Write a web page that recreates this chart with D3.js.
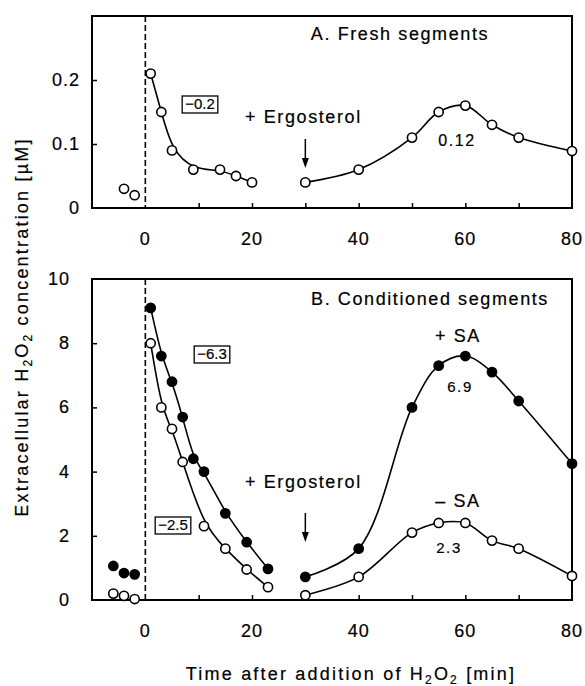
<!DOCTYPE html>
<html>
<head>
<meta charset="utf-8">
<script src="https://cdn.jsdelivr.net/npm/d3@7"></script>
<style>
body { margin: 0; background: #fff; }
text { font-family: "Liberation Sans", Arial, sans-serif; fill: #000; stroke: #000; stroke-width: 0.2px; }
</style>
</head>
<body>
<div id="chart-area"></div>
<script>
// data (time in min, concentration in uM)
var preA = [[-4, 0.03], [-2, 0.02]]
var declineA = [[1, 0.21], [3, 0.15], [5, 0.09], [9, 0.06], [14, 0.06], [17, 0.05], [20, 0.04]]
var riseA = [[30, 0.04], [40, 0.06], [50, 0.11], [55, 0.15], [60, 0.16], [65, 0.13], [70, 0.11], [80, 0.089]]

var preFilled = [[-6, 1.06], [-4, 0.84], [-2, 0.8]]
var preOpen = [[-6, 0.2], [-4, 0.13], [-2, 0.03]]
var declineFilled = [[1, 9.1], [3, 7.6], [5, 6.8], [7, 5.7], [9, 4.4], [11, 4.0], [15, 2.7], [19, 1.8], [23, 0.97]]
var declineOpen = [[1, 8.0], [3, 6.0], [5, 5.33], [7, 4.3], [11, 2.3], [15, 1.6], [19, 0.95], [23, 0.4]]
var riseFilled = [[30, 0.72], [40, 1.6], [50, 6.0], [55, 7.3], [60, 7.6], [65, 7.1], [70, 6.2], [80, 4.25]]
var riseOpen = [[30, 0.15], [40, 0.72], [50, 2.1], [55, 2.4], [60, 2.4], [65, 1.85], [70, 1.6], [80, 0.75]]

var xTicks = [10, 20, 30, 40, 50, 60, 70]
var xLabels = [0, 20, 40, 60, 80]
var yTicksA = [0, 0.1, 0.2]
var yTicksB = [0, 2, 4, 6, 8, 10]

var width = 585
var height = 686

var svg = d3.select("#chart-area").append("svg")
.attr("width", width)
.attr("height", height)

var x = d3.scaleLinear()
.domain([-10, 80])
.range([92, 572])

var yA = d3.scaleLinear()
.domain([0, 0.3])
.range([208, 16])

var yB = d3.scaleLinear()
.domain([0, 10])
.range([600, 279])

var fs = 18

const drawPanel = (y, yTicks, fmt, labelDx) => {
	var g = svg.append("g")
	var top = y.range()[1], bottom = y.range()[0]

	// x axis, ticks pointing inward
	var xAxis = d3.axisBottom(x).tickValues(xTicks).tickSize(-5).tickFormat("")
	g.append("g")
	.attr("transform", "translate(0," + bottom + ")")
	.call(xAxis)

	var inner = yTicks.filter(d => d > y.domain()[0] && d < y.domain()[1])
	var yAxis = d3.axisLeft(y).tickValues(inner).tickSize(-5).tickFormat("")
	g.append("g")
	.attr("transform", "translate(" + x.range()[0] + ",0)")
	.call(yAxis)

	g.selectAll(".domain").remove()
	g.selectAll(".tick line").attr("stroke", "#000").attr("stroke-width", 1.5)

	// frame
	g.append("rect")
	.attr("x", x.range()[0])
	.attr("y", top)
	.attr("width", x.range()[1] - x.range()[0])
	.attr("height", bottom - top)
	.attr("fill", "none")
	.attr("stroke", "#000")
	.attr("stroke-width", 2)

	// x labels
	g.selectAll(".xl")
	.data(xLabels)
	.enter().append("text")
	.attr("x", d => x(d))
	.attr("y", bottom + 37)
	.attr("text-anchor", "middle")
	.attr("font-size", fs)
	.style("letter-spacing", "1px")
	.text(d => d)

	// y labels
	g.selectAll(".yl")
	.data(yTicks)
	.enter().append("text")
	.attr("x", x.range()[0] - labelDx)
	.attr("y", d => y(d) + 6)
	.attr("text-anchor", "end")
	.attr("font-size", fs)
	.style("letter-spacing", "1px")
	.text(fmt)

	// dashed line at time zero
	g.append("line")
	.attr("x1", x(0)).attr("x2", x(0))
	.attr("y1", top).attr("y2", bottom)
	.attr("stroke", "#000")
	.attr("stroke-width", 1.6)
	.attr("stroke-dasharray", "6,3")

	return g
}

var gA = drawPanel(yA, yTicksA, d => d == 0 ? "0" : d3.format(".1f")(d), 12)
var gB = drawPanel(yB, yTicksB, d => d, 22)

const curve = (g, y, data, type) => {
	g.append("path")
	.datum(data)
	.attr("fill", "none")
	.attr("stroke", "#000")
	.attr("stroke-width", 1.6)
	.attr("d", d3.line().x(d => x(d[0])).y(d => y(d[1])).curve(type))
}

const dots = (g, y, data, filled) => {
	g.selectAll(null)
	.data(data)
	.enter().append("circle")
	.attr("cx", d => x(d[0]))
	.attr("cy", d => y(d[1]))
	.attr("r", 4.6)
	.attr("fill", filled ? "#000" : "#fff")
	.attr("stroke", "#000")
	.attr("stroke-width", 1.6)
}

curve(gA, yA, declineA, d3.curveBasis)
curve(gA, yA, riseA, d3.curveCatmullRom)
dots(gA, yA, preA, false)
dots(gA, yA, declineA, false)
dots(gA, yA, riseA, false)

curve(gB, yB, declineFilled, d3.curveBasis)
curve(gB, yB, declineOpen, d3.curveBasis)
curve(gB, yB, riseFilled, d3.curveCatmullRom)
curve(gB, yB, riseOpen, d3.curveCatmullRom)
dots(gB, yB, preFilled, true)
dots(gB, yB, preOpen, false)
dots(gB, yB, declineFilled, true)
dots(gB, yB, declineOpen, false)
dots(gB, yB, riseFilled, true)
dots(gB, yB, riseOpen, false)

// annotations
var notes = svg.append("g")

const note = (px, py, txt, size, anchor) => {
	return notes.append("text")
	.attr("x", px).attr("y", py)
	.attr("text-anchor", anchor || "middle")
	.attr("font-size", size)
	.style("letter-spacing", "1.6px")
	.text(txt)
}

const boxed = (px, py, txt) => {
	var t = note(px, py, txt, 15, "middle").style("letter-spacing", "0px")
	var b = t.node().getBBox()
	notes.insert("rect", () => t.node())
	.attr("x", b.x - 3).attr("y", b.y + 1)
	.attr("width", b.width + 6).attr("height", b.height)
	.attr("fill", "#fff")
	.attr("stroke", "#000")
	.attr("stroke-width", 1.3)
}

const arrow = (px, y1, y2) => {
	svg.append("line")
	.attr("x1", px).attr("x2", px)
	.attr("y1", y1).attr("y2", y2 - 8)
	.attr("stroke", "#000").attr("stroke-width", 1.5)
	svg.append("path")
	.attr("d", "M" + (px - 3.5) + "," + (y2 - 10) + "L" + (px + 3.5) + "," + (y2 - 10) + "L" + px + "," + y2 + "Z")
	.attr("fill", "#000")
}

note(400, 40, "A. Fresh segments", fs)
note(457, 146, "0.12", 16)
boxed(200, 109, "−0.2")
note(245, 123, "+ Ergosterol", fs, "start")
arrow(x(30), 139, 168)

note(430, 305, "B. Conditioned segments", fs)
note(458, 342, "+ SA", fs)
note(460, 392, "6.9", 15)
note(458, 507, "–  SA", fs)
note(449, 553, "2.3", 15)
boxed(212, 359, "−6.3")
boxed(173, 530, "−2.5")
note(245, 488, "+ Ergosterol", fs, "start")
arrow(x(30), 513, 542)

// axis titles
var xt = svg.append("text")
.attr("x", 351).attr("y", 680)
.attr("text-anchor", "middle")
.attr("font-size", fs)
.style("letter-spacing", "2.2px")
xt.append("tspan").text("Time after addition of H")
xt.append("tspan").attr("font-size", 12).attr("dy", 4).text("2")
xt.append("tspan").attr("dy", -4).text("O")
xt.append("tspan").attr("font-size", 12).attr("dy", 4).text("2")
xt.append("tspan").attr("dy", -4).text(" [min]")

var yt = svg.append("text")
.attr("transform", "translate(28,327) rotate(-90)")
.attr("text-anchor", "middle")
.attr("font-size", fs)
.style("letter-spacing", "2.2px")
yt.append("tspan").text("Extracellular H")
yt.append("tspan").attr("font-size", 12).attr("dy", 4).text("2")
yt.append("tspan").attr("dy", -4).text("O")
yt.append("tspan").attr("font-size", 12).attr("dy", 4).text("2")
yt.append("tspan").attr("dy", -4).text(" concentration [µM]")
</script>
</body>
</html>
